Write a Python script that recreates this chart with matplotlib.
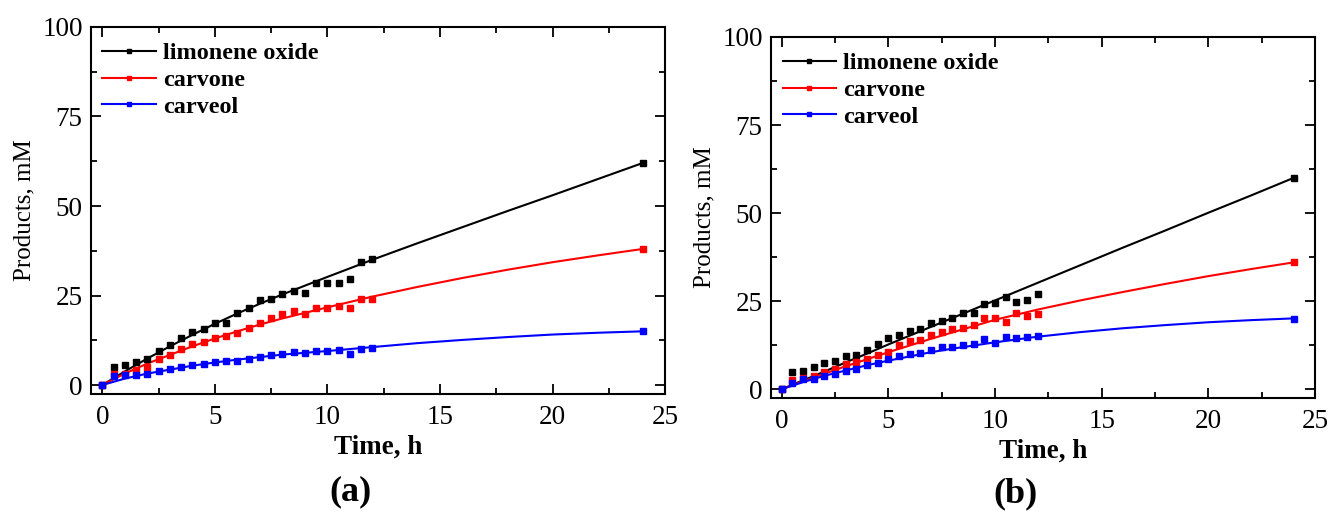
import matplotlib
matplotlib.use('Agg')
import matplotlib.pyplot as plt
from matplotlib.lines import Line2D
from matplotlib.ticker import MultipleLocator

plt.rcParams['font.family'] = ['Liberation Serif', 'DejaVu Serif']

# Experimental sampling times (h)
t_exp = [0, 0.5, 1, 1.5, 2, 2.5, 3, 3.5, 4, 4.5, 5, 5.5, 6, 6.5, 7, 7.5,
         8, 8.5, 9, 9.5, 10, 10.5, 11, 11.5, 12, 24]

# Panel (a) measured concentrations, mM
lim_a = [0, 5.0, 5.6, 6.3, 7.2, 9.5, 11.1, 13.1, 14.8, 15.6, 17.4, 17.4, 20.1,
         21.6, 23.8, 24.1, 25.3, 26.2, 25.6, 28.4, 28.4, 28.6, 29.6, 34.4, 35.3, 62.0]
carvone_a = [0, 3.0, 3.2, 4.2, 5.1, 7.4, 8.5, 10.2, 11.4, 12.0, 13.2, 13.7, 14.4,
             15.9, 17.4, 18.7, 19.7, 20.6, 19.9, 21.5, 21.5, 22.2, 21.5, 24.1, 24.1, 38.0]
carveol_a = [0, 2.5, 2.8, 2.8, 3.0, 4.0, 4.6, 5.1, 5.7, 5.9, 6.5, 6.7, 6.8,
             7.4, 7.7, 8.5, 8.7, 9.1, 8.9, 9.5, 9.5, 9.9, 8.8, 10.2, 10.4, 15.0]

# Panel (b) measured concentrations, mM
lim_b = [0, 4.8, 5.2, 6.3, 7.4, 8.0, 9.3, 9.8, 11.2, 12.7, 14.5, 15.5, 16.6,
         17.2, 18.7, 19.4, 20.3, 21.6, 21.6, 24.3, 24.6, 26.1, 24.7, 25.3, 27.1, 60.0]
carvone_b = [0, 2.7, 3.2, 3.7, 4.9, 5.8, 7.2, 7.8, 8.7, 9.8, 10.6, 12.6, 13.8,
             14.1, 15.4, 16.3, 17.0, 17.5, 18.3, 20.3, 20.3, 19.1, 21.6, 20.8, 21.4, 36.0]
carveol_b = [0, 1.8, 2.8, 2.8, 3.7, 4.4, 5.3, 5.8, 6.8, 7.5, 8.7, 9.4, 10.0,
             10.4, 11.2, 11.9, 12.1, 12.6, 12.8, 14.2, 13.0, 14.7, 14.4, 14.7, 15.1, 20.0]

# Model curves
t_fit = [0, 1, 2, 3, 4, 5, 6, 7, 8, 10, 12, 14, 16, 18, 20, 22, 24]
lim_fit_a = [0, 3.8, 7.4, 10.8, 14.0, 17.1, 20.0, 22.7, 25.3, 30.2, 35.0,
             39.6, 44.1, 48.6, 53.0, 57.5, 62.0]
carvone_fit_a = [0, 3.2, 6.0, 8.4, 10.8, 13.0, 15.0, 16.9, 18.6, 21.7, 24.7,
                 27.4, 29.9, 32.2, 34.3, 36.2, 38.0]
carveol_fit_a = [0, 1.8, 3.2, 4.3, 5.4, 6.3, 7.1, 7.8, 8.5, 9.5, 10.6,
                 11.7, 12.6, 13.4, 14.1, 14.6, 15.0]
lim_fit_b = [0, 2.5, 5.0, 7.6, 10.1, 12.7, 15.2, 17.7, 20.2, 25.2, 30.2,
             35.2, 40.2, 45.1, 50.1, 55.0, 60.0]
carvone_fit_b = [0, 2.2, 4.4, 6.5, 8.5, 10.5, 12.4, 14.3, 16.1, 19.7, 22.6,
                 25.2, 27.6, 29.9, 32.1, 34.1, 36.0]
carveol_fit_b = [0, 2.0, 3.8, 5.3, 6.8, 8.1, 9.3, 10.5, 11.5, 13.3, 14.9,
                 16.2, 17.3, 18.2, 19.0, 19.6, 20.1]

labels = ['limonene oxide', 'carvone', 'carveol']
colors = ['black', '#ff0000', '#0000ff']

fig = plt.figure(figsize=(13.31, 5.12), dpi=100)
ax_a = fig.add_axes([0.0684, 0.2305, 0.4313, 0.7168])
ax_b = fig.add_axes([0.5793, 0.2227, 0.4087, 0.7051])

panels = [
    (ax_a, [lim_a, carvone_a, carveol_a], [lim_fit_a, carvone_fit_a, carveol_fit_a]),
    (ax_b, [lim_b, carvone_b, carveol_b], [lim_fit_b, carvone_fit_b, carveol_fit_b]),
]

for ax, exp_sets, fit_sets in panels:
    for y_exp, y_fit, c in zip(exp_sets, fit_sets, colors):
        ax.plot(t_fit, y_fit, color=c, lw=1.5, zorder=2)
        ax.plot(t_exp, y_exp, ls='none', marker='s', ms=5, color=c, zorder=3)
    ax.set_xlim(-0.5, 25)
    ax.set_ylim(-2.5, 100)
    ax.xaxis.set_major_locator(MultipleLocator(5))
    ax.xaxis.set_minor_locator(MultipleLocator(2.5))
    ax.yaxis.set_major_locator(MultipleLocator(25))
    ax.yaxis.set_minor_locator(MultipleLocator(12.5))
    ax.tick_params(which='both', direction='in', top=True, right=True,
                   width=1.3, labelsize=19.5)
    ax.tick_params(which='major', length=7)
    ax.tick_params(axis='x', which='major', pad=8)
    ax.tick_params(axis='y', which='major', pad=6)
    ax.tick_params(which='minor', length=4)
    for s in ax.spines.values():
        s.set_linewidth(1.5)
    ax.set_xlabel('Time, h', fontsize=19.5, fontweight='bold', labelpad=3)
    ax.set_ylabel('Products, mM', fontsize=18, labelpad=5)
    handles = [Line2D([0], [0], color=c, lw=1.5, marker='s', ms=3.5)
               for c in colors]
    ax.legend(handles, labels, loc='upper left', bbox_to_anchor=(-0.01, 1.005),
              frameon=False, prop={'weight': 'bold', 'size': 17.5},
              handlelength=2.2, handletextpad=0.3, labelspacing=0.2,
              borderaxespad=0.3)

fig.text(0.263, 0.04, '(a)', ha='center', va='center', fontsize=26,
         fontweight='bold')
fig.text(0.763, 0.036, '(b)', ha='center', va='center', fontsize=26,
         fontweight='bold')

fig.savefig('out.png', dpi=100)
